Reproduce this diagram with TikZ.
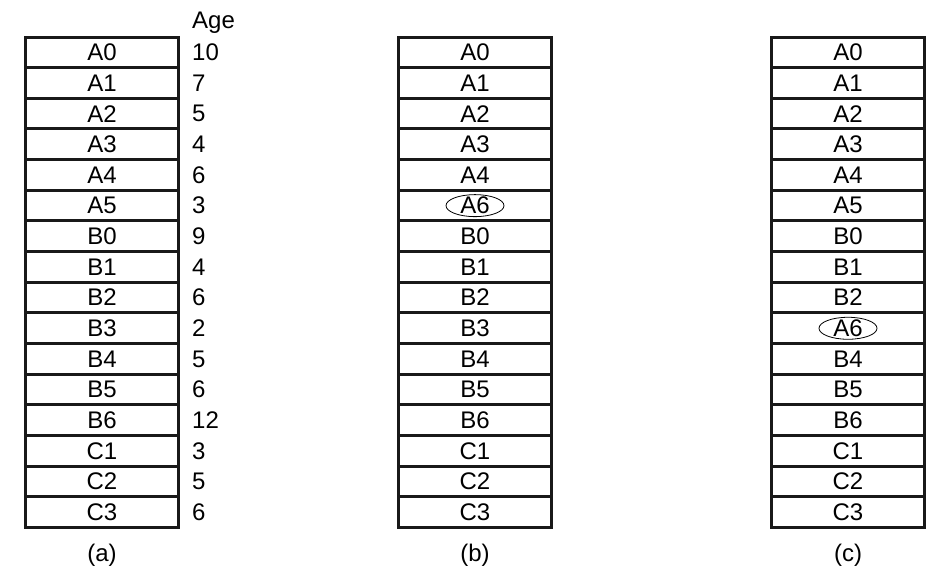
\documentclass[tikz,border=0pt]{standalone}
\usepackage{fontspec}
\setmainfont{Liberation Sans}
\usetikzlibrary{shapes.geometric}
\begin{document}
\begin{tikzpicture}[x=1pt,y=-1pt,
  cell/.style={draw=black!90,line width=3pt,minimum width=153pt,minimum height=30.66pt,inner sep=0pt,font=\fontsize{24}{26}\selectfont},
  agetext/.style={anchor=west,inner sep=0pt,font=\fontsize{24}{26}\selectfont},
  caption/.style={inner sep=0pt,font=\fontsize{24}{26}\selectfont},
  mark6/.style={draw,ellipse,line width=0.8pt,minimum width=58pt,minimum height=22pt,inner sep=0pt}]
\useasboundingbox (0,0) rectangle (946,579);
% column (a)
\foreach \t/\g [count=\i] in {A0/10,A1/7,A2/5,A3/4,A4/6,A5/3,B0/9,B1/4,B2/6,B3/2,B4/5,B5/6,B6/12,C1/3,C2/5,C3/6}{
  \node[cell] (a\i) at (102,{37+30.66*(\i-0.5)}) {\t};
  \node[agetext] (ag\i) at (192,{37+30.66*(\i-0.5)}) {\g};
}
\node[agetext] (agehead) at (192,23) {Age};
% column (b)
\foreach \t [count=\i] in {A0,A1,A2,A3,A4,A6,B0,B1,B2,B3,B4,B5,B6,C1,C2,C3}{
  \node[cell] (b\i) at (475,{37+30.66*(\i-0.5)}) {\t};
}
% column (c)
\foreach \t [count=\i] in {A0,A1,A2,A3,A4,A5,B0,B1,B2,A6,B4,B5,B6,C1,C2,C3}{
  \node[cell] (c\i) at (848,{37+30.66*(\i-0.5)}) {\t};
}
\node[mark6] (eb) at (b6.center) {};
\node[mark6] (ec) at (c10.center) {};
\node[caption] (capa) at (102,555) {(a)};
\node[caption] (capb) at (475,555) {(b)};
\node[caption] (capc) at (848,555) {(c)};
\end{tikzpicture}
\end{document}
